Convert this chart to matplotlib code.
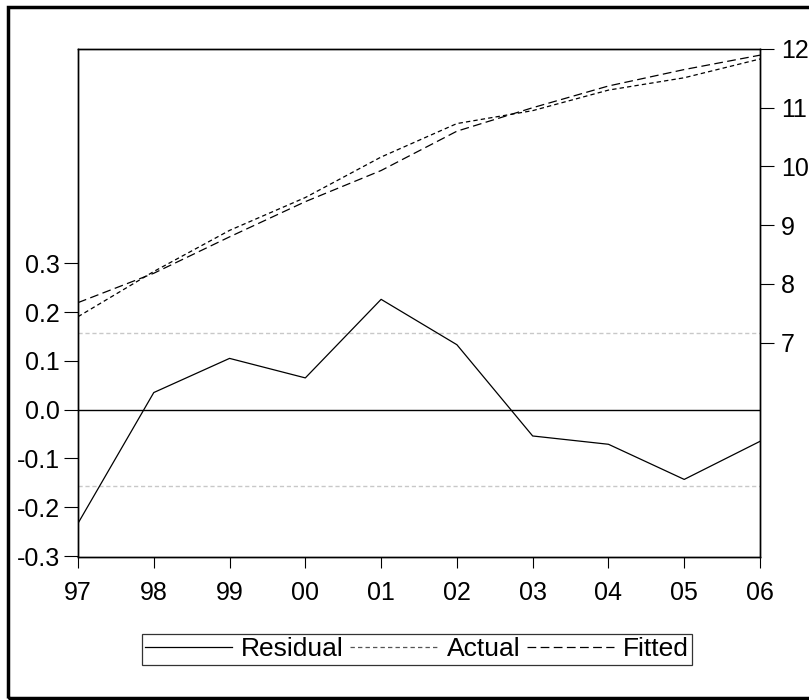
import numpy as np
import matplotlib
matplotlib.use("Agg")
import matplotlib.pyplot as plt
from matplotlib.patches import Rectangle

plt.rcParams['font.family'] = ['Liberation Sans', 'DejaVu Sans']

years = [1997, 1998, 1999, 2000, 2001, 2002, 2003, 2004, 2005, 2006]
year_labels = ['97', '98', '99', '00', '01', '02', '03', '04', '05', '06']
residual = [-0.233, 0.035, 0.105, 0.065, 0.226, 0.133, -0.054, -0.071, -0.143, -0.065]
actual = [7.44, 8.21, 8.91, 9.47, 10.16, 10.73, 10.95, 11.30, 11.51, 11.83]
fitted = [7.68, 8.18, 8.80, 9.40, 9.93, 10.60, 11.00, 11.37, 11.65, 11.895]
se = 0.157
left_ticks = [-0.3, -0.2, -0.1, 0.0, 0.1, 0.2, 0.3]
right_ticks = [7, 8, 9, 10, 11, 12]

W, H = 809, 700
fig = plt.figure(figsize=(W / 100, H / 100), dpi=100)

# outer frame (right edge runs off the picture)
fig.patches.append(Rectangle((8 / W, 1 - 698 / H), 820 / W, (698 - 7) / H,
                             transform=fig.transFigure, fill=False,
                             edgecolor='black', linewidth=2.5))

ax = fig.add_axes([78 / W, 1 - 557 / H, (760 - 78) / W, (557 - 49) / H])
ax2 = ax.twinx()

# residual panel on the left axis
ax.axhline(0, color='black', linewidth=1.0)
ax.axhline(se, color='#c8c8c8', linewidth=1.0, linestyle=(0, (3, 2)))
ax.axhline(-se, color='#c8c8c8', linewidth=1.0, linestyle=(0, (3, 2)))
l_res, = ax.plot(years, residual, color='black', linewidth=0.9, label='Residual')
ax.set_ylim(-0.302, 0.739)
ax.set_yticks(left_ticks)
ax.set_yticklabels(['%.1f' % t for t in left_ticks])
ax.set_xlim(1997, 2006)
ax.set_xticks(years)
ax.set_xticklabels(year_labels)

# actual / fitted on the right axis
l_act, = ax2.plot(years, actual, color='black', linewidth=0.9,
                  linestyle=(0, (3.5, 2.5)), label='Actual')
l_fit, = ax2.plot(years, fitted, color='black', linewidth=0.9,
                  linestyle=(0, (7, 3.5)), label='Fitted')
ax2.set_ylim(3.347, 12.0)
ax2.set_yticks(right_ticks)

for a in (ax, ax2):
    for s in a.spines.values():
        s.set_color('black')
        s.set_linewidth(1.0)
    a.tick_params(direction='out', labelsize=18, width=0.8)
ax.tick_params(axis='y', length=10, pad=3)
ax.tick_params(axis='x', length=8, pad=9)
ax2.tick_params(axis='y', length=10, pad=5)

leg = fig.legend(handles=[l_res, l_act, l_fit], loc='center',
                 bbox_to_anchor=(417 / W, 1 - 649.5 / H), ncol=3,
                 fontsize=19, frameon=True, fancybox=False,
                 handlelength=3.3, handletextpad=0.35, columnspacing=0.25,
                 borderpad=0.12, borderaxespad=0)
leg.get_frame().set_edgecolor('black')
leg.get_frame().set_linewidth(0.9)
leg.legend_handles[1].set_color('#555555')

fig.savefig('out.png', dpi=100)
